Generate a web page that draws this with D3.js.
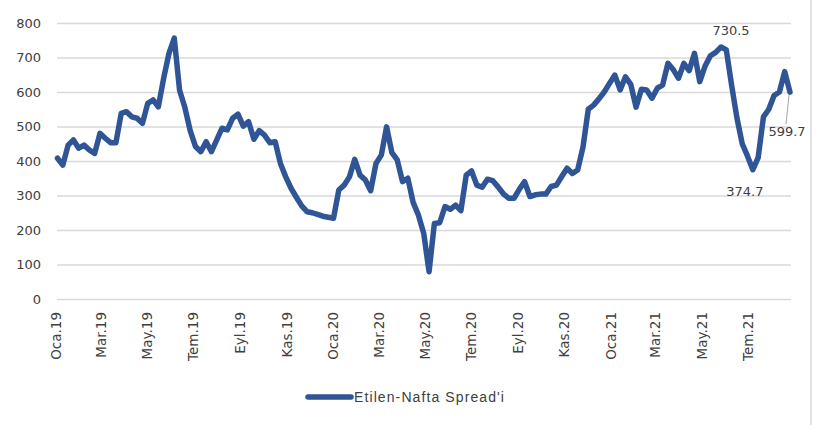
<!DOCTYPE html>
<html>
<head>
<meta charset="utf-8">
<script src="https://cdn.jsdelivr.net/npm/d3@7"></script>
<style>
    body { margin: 0; background: #fff; }
    .grid line { stroke: #d9d9d9; stroke-width: 1.5; }
    .grid path { display: none; }
</style>
</head>
<body>
<div id="chart"></div>
<script>
// weekly spread values, first week starts 2019-01-01
var startDate = "2019-01-01";
var spread = [
    408, 388, 446, 461, 437, 446, 432, 422, 480, 466, 453, 453, 538, 543, 528, 524, 509, 567, 577, 557,
    640, 712, 756, 605, 555, 488, 442, 427, 456, 427, 461, 495, 490, 524, 536, 501, 514, 463, 488, 475,
    453, 456, 393, 354, 321, 295, 270, 253, 250, 245, 240, 237, 234, 316, 330, 354, 405, 359, 345, 314,
    393, 417, 499, 424, 403, 340, 350, 280, 243, 190, 79, 219, 221, 268, 260, 272, 256, 359, 371, 330,
    324, 347, 343, 325, 305, 292, 292, 318, 340, 297, 302, 304, 304, 326, 330, 355, 379, 364, 374, 440,
    550, 562, 580, 600, 625, 649, 606, 644, 622, 556, 608, 606, 582, 611, 620, 683, 665, 640, 683, 662,
    712, 630, 675, 705, 715, 730.5, 722, 620, 525, 450, 414, 374.7, 410, 528, 550, 590, 600, 659, 599.7
];

// x axis labels (every two months)
var tickDates = ["2019-01-01", "2019-03-01", "2019-05-01", "2019-07-01", "2019-09-01", "2019-11-01",
    "2020-01-01", "2020-03-01", "2020-05-01", "2020-07-01", "2020-09-01", "2020-11-01",
    "2021-01-01", "2021-03-01", "2021-05-01", "2021-07-01"];
var tickLabels = ["Oca.19", "Mar.19", "May.19", "Tem.19", "Eyl.19", "Kas.19",
    "Oca.20", "Mar.20", "May.20", "Tem.20", "Eyl.20", "Kas.20",
    "Oca.21", "Mar.21", "May.21", "Tem.21"];
var yTicks = [0, 100, 200, 300, 400, 500, 600, 700, 800];

// labelled points: index in spread, and label offset
var labelPoints = [
    {i: 125, dx: 10, dy: -12},
    {i: 131, dx: -8, dy: 26},
    {i: 138, dx: -3, dy: 44}
];
var seriesName = "Etilen-Nafta Spread'i";

var width = 819, height = 425;
var margin = {top: 23, right: 28, bottom: 126, left: 57};
var parse = d3.timeParse("%Y-%m-%d");
var t0 = parse(startDate);

var data = spread.map(function (v, i) {
    return {date: d3.timeDay.offset(t0, i * 7), value: v};
});

var x = d3.scaleTime()
    .domain([t0, data[data.length - 1].date])
    .range([margin.left + 0.5, width - margin.right - 1]);

var y = d3.scaleLinear()
    .domain([0, 800])
    .range([height - margin.bottom, margin.top]);

var svg = d3.select("#chart")
    .append("svg")
    .attr("width", width)
    .attr("height", height);

// right frame border
svg.append("line")
    .attr("x1", 811).attr("x2", 811)
    .attr("y1", 0).attr("y2", height)
    .attr("stroke", "#d9d9d9")
    .attr("stroke-width", 1.5);

// horizontal gridlines
svg.append("g")
    .attr("class", "grid")
    .attr("transform", "translate(" + margin.left + ",0)")
    .call(d3.axisLeft(y)
        .tickValues(yTicks)
        .tickSize(-(width - margin.right - margin.left))
        .tickFormat(""));

// y labels
svg.append("g")
    .selectAll("text")
    .data(yTicks)
    .enter()
    .append("text")
    .attr("x", 41)
    .attr("y", function (d) { return y(d); })
    .attr("dy", "0.35em")
    .attr("text-anchor", "end")
    .style("font-family", "DejaVu Sans")
    .style("font-size", "13px")
    .style("fill", "#404040")
    .text(function (d) { return d; });

// x labels, rotated
svg.append("g")
    .selectAll("text")
    .data(tickDates)
    .enter()
    .append("text")
    .attr("transform", function (d) {
        return "translate(" + (x(parse(d)) - 1) + "," + 312 + ") rotate(-90)";
    })
    .attr("dy", "0.35em")
    .attr("text-anchor", "end")
    .style("font-family", "DejaVu Sans")
    .style("font-size", "13.5px")
    .style("fill", "#404040")
    .text(function (d, i) { return tickLabels[i]; });

// the line
var line = d3.line()
    .x(function (d) { return x(d.date); })
    .y(function (d) { return y(d.value); });

svg.append("path")
    .datum(data)
    .attr("d", line)
    .attr("fill", "none")
    .attr("stroke", "#2f5597")
    .attr("stroke-width", 5.5)
    .attr("stroke-linejoin", "round")
    .attr("stroke-linecap", "round");

// leader line for last label
var last = data[data.length - 1];
svg.append("line")
    .attr("x1", x(last.date) - 1)
    .attr("y1", y(last.value) + 3)
    .attr("x2", x(last.date) - 4)
    .attr("y2", y(last.value) + 32)
    .attr("stroke", "#a6a6a6")
    .attr("stroke-width", 1);

// data labels
svg.append("g")
    .selectAll("text")
    .data(labelPoints)
    .enter()
    .append("text")
    .attr("x", function (d) { return x(data[d.i].date) + d.dx; })
    .attr("y", function (d) { return y(data[d.i].value) + d.dy; })
    .attr("text-anchor", "middle")
    .style("font-family", "DejaVu Sans")
    .style("font-size", "13px")
    .style("fill", "#404040")
    .text(function (d) { return data[d.i].value.toFixed(1); });

// legend
var legend = svg.append("g")
    .attr("transform", "translate(308,397)");

legend.append("line")
    .attr("x1", 0).attr("x2", 43)
    .attr("y1", 0).attr("y2", 0)
    .attr("stroke", "#2f5597")
    .attr("stroke-width", 5.5)
    .attr("stroke-linecap", "round");

legend.append("text")
    .attr("x", 46)
    .attr("y", 0)
    .attr("dy", "0.35em")
    .style("font-family", "Liberation Sans")
    .style("font-size", "14px")
    .style("letter-spacing", "1.1px")
    .style("fill", "#404040")
    .text(seriesName);
</script>
</body>
</html>
